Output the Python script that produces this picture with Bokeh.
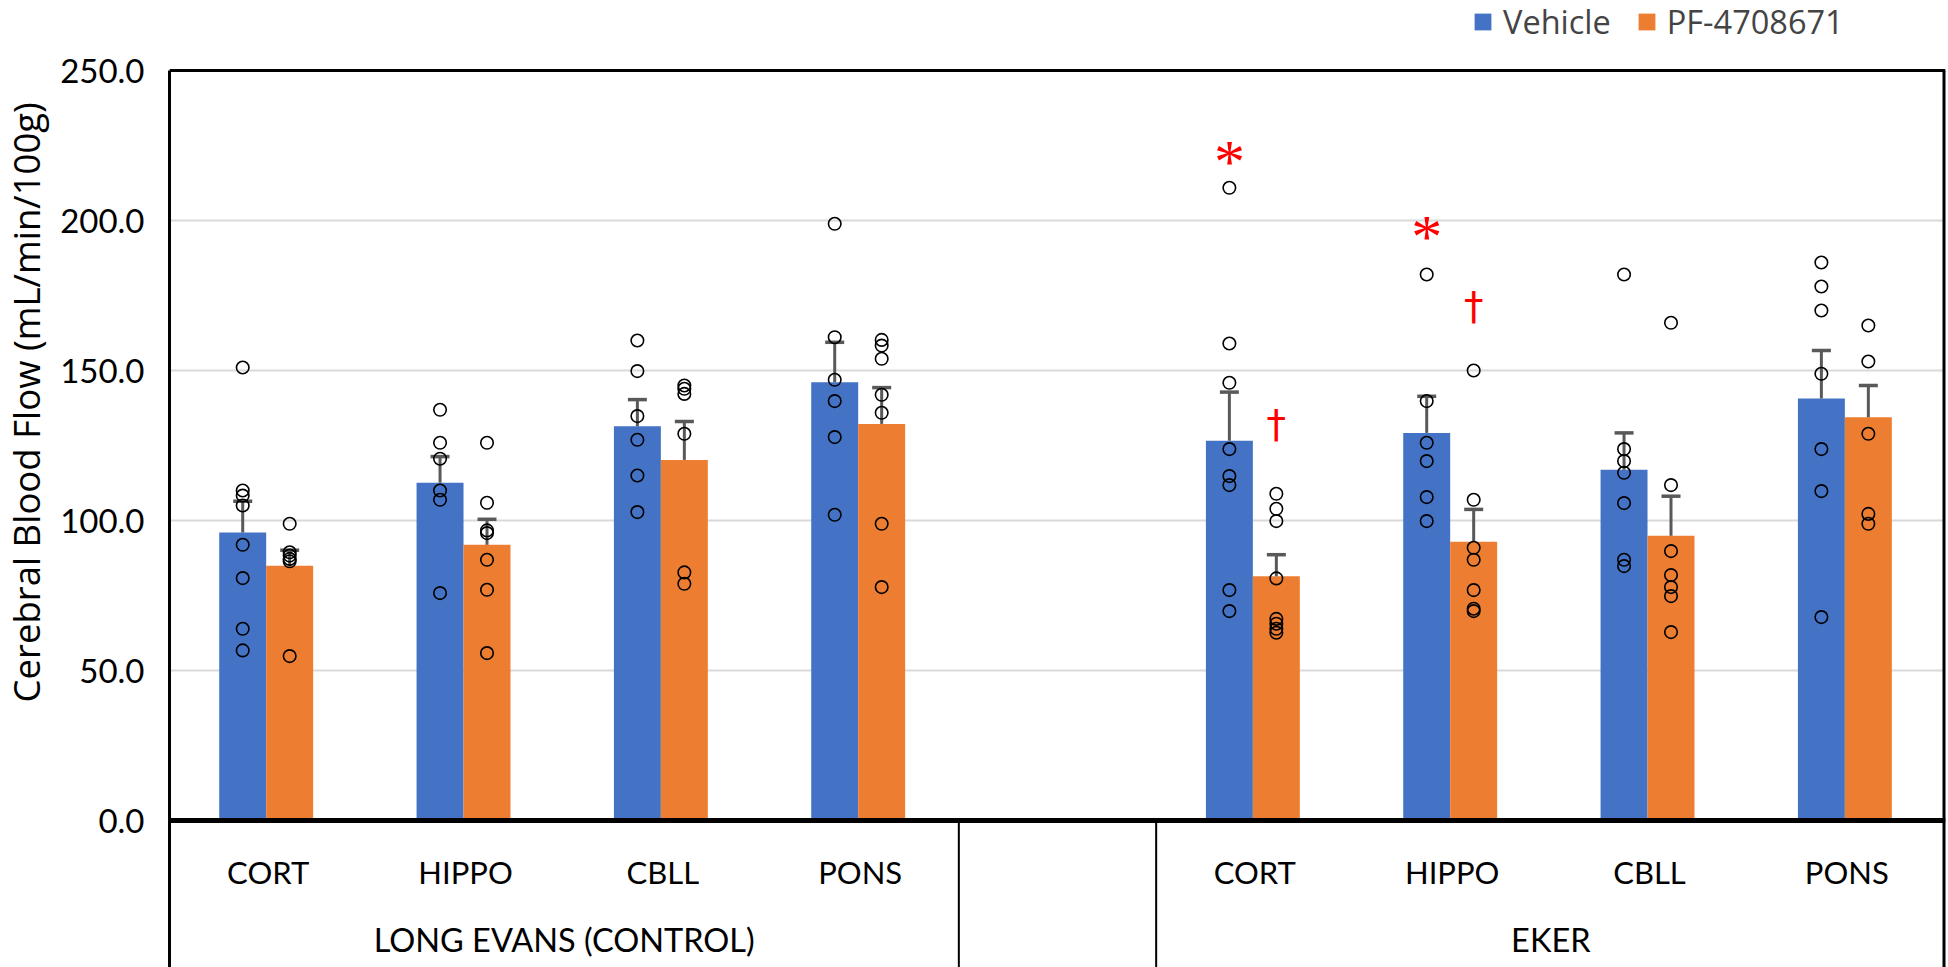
from bokeh.plotting import figure
from bokeh.models import (FactorRange, Range1d, ColumnDataSource, Legend, LegendItem, Title,
                          FixedTicker, NumeralTickFormatter, Span)
from bokeh.transform import dodge
from bokeh.core.properties import value
from bokeh.embed import file_html
from bokeh.resources import INLINE

# ---------------- data ----------------
groups = ["LONG EVANS (CONTROL)", "EKER"]
regions = ["CORT", "HIPPO", "CBLL", "PONS"]
series = ["Vehicle", "PF-4708671"]

vehicle_mean = [96.0, 112.6, 131.4, 146.1, 126.6, 129.2, 116.9, 140.7]
vehicle_sem = [10.4, 8.7, 8.9, 13.3, 16.2, 12.2, 12.3, 16.0]
pf_mean = [84.9, 91.9, 120.2, 132.2, 81.4, 92.9, 94.9, 134.4]
pf_sem = [5.2, 8.5, 12.8, 12.1, 7.2, 10.8, 13.2, 10.6]

vehicle_points = [
    [151.0, 110.0, 108.3, 105.0, 91.9, 80.8, 63.9, 56.7],
    [136.9, 125.9, 120.6, 110.0, 106.9, 75.8],
    [160.0, 149.8, 134.8, 126.9, 115.0, 102.8],
    [198.9, 161.1, 146.9, 139.8, 127.8, 101.9],
    [210.9, 159.0, 145.9, 123.8, 114.8, 111.8, 76.8, 69.8],
    [182.0, 139.8, 125.9, 119.8, 107.8, 99.8],
    [182.0, 123.8, 119.8, 115.9, 105.8, 86.9, 84.8],
    [186.0, 178.0, 170.0, 148.9, 123.8, 109.8, 67.8],
]
pf_points = [
    [98.9, 89.4, 88.3, 87.2, 86.4, 54.8],
    [125.9, 105.9, 96.7, 95.8, 86.9, 76.9, 55.8],
    [145.0, 143.9, 142.2, 128.9, 82.7, 78.9],
    [160.2, 158.3, 153.9, 141.9, 135.9, 98.9, 77.8],
    [108.9, 103.9, 99.8, 80.7, 67.2, 65.6, 63.9, 62.6],
    [150.0, 106.9, 90.9, 86.9, 76.8, 70.6, 69.8],
    [165.9, 111.8, 89.8, 81.8, 77.8, 74.8, 62.8],
    [165.0, 153.0, 128.9, 102.2, 98.9],
]

# significance marks (EKER): * vs LE vehicle, dagger vs EKER vehicle
star_regions = ["CORT", "HIPPO"]
star_y = [221.7, 196.9]
dagger_regions = ["CORT", "HIPPO"]
dagger_y = [132.0, 171.4]

y_ticks = [0, 50, 100, 150, 200, 250]
y_max = 250

# ---------------- layout constants ----------------
W, H = 1948, 967
LEFT, RIGHT = 169, 3
TOP_PX, BOTTOM_PX = 70, 147          # space above 250 and below 0
PX_PER_UNIT = (H - TOP_PX - BOTTOM_PX) / y_max
y_lo = -BOTTOM_PX / PX_PER_UNIT
y_hi = y_max + TOP_PX / PX_PER_UNIT

# ---------------- build ----------------
bar_factors = [(g, r) for g in groups for r in regions]
blank = (" ", " ")
all_factors = [(groups[0], r) for r in regions] + [blank] + [(groups[1], r) for r in regions]

x_range = FactorRange(*all_factors, group_padding=0, factor_padding=0,
                      subgroup_padding=0, range_padding=0)

p = figure(width=W, height=H, x_range=x_range, y_range=Range1d(y_lo, y_hi),
           output_backend="svg", toolbar_location=None,
           min_border_left=LEFT, min_border_right=RIGHT, min_border_top=0,
           min_border_bottom=0)
p.title.visible = False
p.outline_line_color = None

BLUE = "#4472C4"
ORANGE = "#ED7D31"
ERR = "#595959"
OFF_V = -0.129
OFF_P = 0.109
BW = 0.238

src = ColumnDataSource(dict(
    x=bar_factors,
    veh=vehicle_mean, pf=pf_mean,
    veh_hi=[m + s for m, s in zip(vehicle_mean, vehicle_sem)],
    pf_hi=[m + s for m, s in zip(pf_mean, pf_sem)],
))

# gridlines
p.ygrid.ticker = FixedTicker(ticks=y_ticks[1:-1])
p.ygrid.grid_line_color = "#D9D9D9"
p.ygrid.grid_line_width = 2
p.xgrid.grid_line_color = None

rv = p.vbar(x=dodge("x", OFF_V, range=x_range), top="veh", width=BW, source=src,
            fill_color=BLUE, line_color=None)
rp = p.vbar(x=dodge("x", OFF_P, range=x_range), top="pf", width=BW, source=src,
            fill_color=ORANGE, line_color=None)

# error bars (upper only)
for off, lo, hi in [(OFF_V, "veh", "veh_hi"), (OFF_P, "pf", "pf_hi")]:
    p.segment(x0=dodge("x", off, range=x_range), y0=lo,
              x1=dodge("x", off, range=x_range), y1=hi, source=src,
              line_color=ERR, line_width=3)
    p.scatter(x=dodge("x", off, range=x_range), y=hi, source=src, marker="dash",
              size=19, line_color=ERR, line_width=3.5)

# individual points
for off, pts in [(OFF_V, vehicle_points), (OFF_P, pf_points)]:
    xs, ys = [], []
    for f, vals in zip(bar_factors, pts):
        for v in vals:
            xs.append(f)
            ys.append(v)
    ps = ColumnDataSource(dict(x=xs, y=ys))
    p.scatter(x=dodge("x", off, range=x_range), y="y", source=ps, marker="circle",
              size=12.5, fill_color=None, line_color="black", line_width=1.6)

# significance symbols
ssrc = ColumnDataSource(dict(x=[(groups[1], r) for r in star_regions], y=star_y))
p.text(x=dodge("x", OFF_V, range=x_range), y="y", text=value("*"), source=ssrc,
       text_color="red", text_font=value("Liberation Serif"), text_font_size="62px",
       text_align="center", text_baseline="middle", y_offset=6)
dsrc = ColumnDataSource(dict(x=[(groups[1], r) for r in dagger_regions], y=dagger_y))
p.text(x=dodge("x", OFF_P, range=x_range), y="y", text=value("\u2020"), source=dsrc,
       text_color="red", text_font=value("DejaVu Sans"), text_font_size="39px",
       text_align="center", text_baseline="middle", y_offset=0)

# chart box: top edge, right edge, and category-group separators
n = len(regions)
n_slots = len(all_factors)
p.add_layout(Span(location=y_max, dimension="width", line_color="black", line_width=3))
p.segment(x0=[n_slots], y0=[y_lo], x1=[n_slots], y1=[y_max],
          line_color="black", line_width=6)
p.segment(x0=[n, n + 1], y0=[y_lo, y_lo], x1=[n, n + 1], y1=[0, 0],
          line_color="black", line_width=2)

# axes
p.yaxis.ticker = FixedTicker(ticks=y_ticks)
p.yaxis.formatter = NumeralTickFormatter(format="0.0")
p.yaxis.bounds = (y_lo, y_max)
p.yaxis.major_tick_line_color = None
p.yaxis.minor_tick_line_color = None
p.yaxis.axis_line_color = "black"
p.yaxis.axis_line_width = 3
p.yaxis.major_label_text_font = "Lato"
p.yaxis.major_label_text_font_size = "33px"
p.yaxis.major_label_text_color = "black"
p.yaxis.major_label_standoff = 19
p.yaxis.axis_label = " "
p.yaxis.axis_label_text_font_size = "1px"
p.yaxis.axis_label_standoff = 1

xa = p.xaxis[0]
xa.fixed_location = 0
xa.axis_line_color = "black"
xa.axis_line_width = 5
xa.major_tick_line_color = None
xa.minor_tick_line_color = None
xa.major_label_text_font = "Lato"
xa.major_label_text_font_size = "31px"
xa.major_label_text_color = "black"
xa.major_label_standoff = 26
xa.group_text_font = "Lato"
xa.group_text_font_size = "32.5px"
xa.group_text_font_style = "normal"
xa.group_text_color = "black"
xa.separator_line_color = None

ytitle = Title(text="Cerebral Blood Flow (mL/min/100g)", align="left", offset=265,
               standoff=0, vertical_align="top", text_font="Open Sans",
               text_font_size="36.5px", text_font_style="normal", text_color="black")
p.add_layout(ytitle, "left")

legend = Legend(items=[LegendItem(label=series[0], renderers=[rv]),
                       LegendItem(label=series[1], renderers=[rp])],
                orientation="horizontal", location=(1303, H - 44),
                label_text_font="Open Sans", label_text_font_size="32.5px",
                glyph_width=21, glyph_height=21, label_standoff=10, spacing=25,
                padding=0, margin=0, border_line_color=None,
                background_fill_alpha=0)
p.add_layout(legend, "center")

open("out.html", "w").write(file_html(p, INLINE))
